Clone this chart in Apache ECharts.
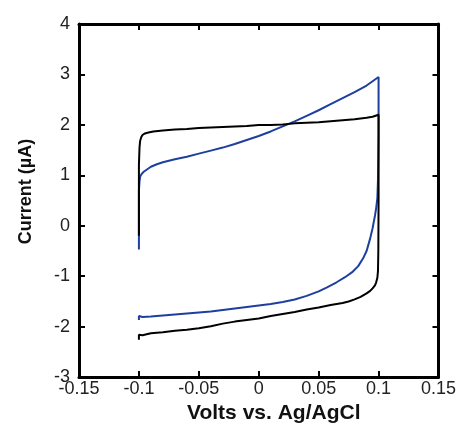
<!DOCTYPE html>
<html>
<head>
<meta charset="utf-8">
<script src="https://cdn.jsdelivr.net/npm/echarts@6/dist/echarts.min.js"></script>
<style>
html,body{margin:0;padding:0;background:#fff;}
#chart{width:459px;height:429px;}
</style>
</head>
<body>
<div id="chart"></div>
<script>
// Black CV trace (volts, microamps)
const blackV = [-0.1,-0.1,-0.1,-0.0995,-0.099,-0.098,-0.097,-0.095,-0.092,-0.088,-0.08,-0.07,-0.06,-0.05,-0.04,-0.03,-0.02,-0.01,0,0.01,0.02,0.03,0.04,0.05,0.06,0.07,0.08,0.09,0.095,0.1,
  0.1,0.1,0.0998,0.0995,0.099,0.098,0.097,0.095,0.093,0.09,0.085,0.08,0.075,0.07,0.06,0.05,0.04,0.03,0.02,0.01,0,-0.01,-0.02,-0.03,-0.04,-0.05,-0.06,-0.07,-0.08,-0.09,-0.097,-0.1,-0.1];
const blackI = [-0.2,0.5,1.2,1.55,1.68,1.76,1.8,1.83,1.85,1.87,1.89,1.91,1.92,1.94,1.95,1.96,1.97,1.98,2.0,2.0,2.01,2.03,2.04,2.05,2.07,2.09,2.11,2.14,2.16,2.2,
  1.5,0.5,-0.5,-0.9,-1.03,-1.12,-1.18,-1.24,-1.29,-1.34,-1.41,-1.46,-1.5,-1.53,-1.57,-1.62,-1.66,-1.71,-1.75,-1.79,-1.84,-1.87,-1.9,-1.94,-1.99,-2.03,-2.06,-2.08,-2.11,-2.13,-2.17,-2.16,-2.26];
// Blue CV trace (volts, microamps)
const blueV = [-0.1,-0.1,-0.1,-0.0995,-0.099,-0.098,-0.096,-0.093,-0.09,-0.085,-0.08,-0.07,-0.06,-0.05,-0.04,-0.03,-0.02,-0.01,0,0.01,0.02,0.03,0.04,0.05,0.06,0.07,0.08,0.09,0.1,
  0.1,0.0995,0.099,0.098,0.097,0.095,0.093,0.09,0.087,0.083,0.078,0.072,0.065,0.057,0.05,0.04,0.03,0.02,0.01,0,-0.01,-0.02,-0.03,-0.04,-0.05,-0.06,-0.07,-0.08,-0.09,-0.097,-0.1,-0.1];
const blueI = [-0.47,0.3,0.7,0.88,0.97,1.02,1.07,1.12,1.17,1.22,1.26,1.32,1.37,1.43,1.49,1.55,1.62,1.7,1.78,1.87,1.97,2.07,2.18,2.29,2.41,2.53,2.65,2.78,2.95,
  1.8,0.9,0.55,0.35,0.2,-0.05,-0.25,-0.5,-0.65,-0.8,-0.92,-1.02,-1.12,-1.22,-1.3,-1.39,-1.46,-1.51,-1.55,-1.58,-1.61,-1.64,-1.67,-1.7,-1.72,-1.74,-1.76,-1.78,-1.8,-1.81,-1.79,-1.87];

const xTicks = {min:-0.15, max:0.15, step:0.05};
const yTicks = {min:-3, max:4, step:1};

const pairs = (a,b) => a.map((v,i)=>[v,b[i]]);
const FONT = '"Liberation Sans", Arial, Helvetica, sans-serif';

const axisCommon = {
  axisLine:{show:true, onZero:false, lineStyle:{color:'#000', width:3}},
  axisTick:{show:true, inside:true, length:6, lineStyle:{color:'#000', width:2}},
  splitLine:{show:false}
};

const chart = echarts.init(document.getElementById('chart'), null, {renderer:'canvas'});
chart.setOption({
  animation:false,
  backgroundColor:'#fff',
  grid:{left:79, top:24, right:18, bottom:48, containLabel:false},
  xAxis:[
    Object.assign({type:'value', position:'bottom', min:xTicks.min, max:xTicks.max, interval:xTicks.step,
      name:'Volts vs. Ag/AgCl', nameLocation:'middle', nameGap:24,
      nameTextStyle:{fontFamily:FONT, fontWeight:'bold', fontSize:21, color:'#111', padding:[0,0,0,30]},
      axisLabel:{fontFamily:FONT, fontSize:18, color:'#222', margin:3}}, axisCommon),
    Object.assign({type:'value', position:'top', min:xTicks.min, max:xTicks.max, interval:xTicks.step,
      axisLabel:{show:false}}, axisCommon)
  ],
  yAxis:[
    Object.assign({type:'value', position:'left', min:yTicks.min, max:yTicks.max, interval:yTicks.step,
      name:'Current (µA)', nameLocation:'middle', nameGap:44,
      nameTextStyle:{fontFamily:FONT, fontWeight:'bold', fontSize:18, color:'#111', padding:[0,0,0,18]},
      axisLabel:{fontFamily:FONT, fontSize:18, color:'#222', margin:9}}, axisCommon),
    Object.assign({type:'value', position:'right', min:yTicks.min, max:yTicks.max, interval:yTicks.step,
      axisLabel:{show:false}}, axisCommon)
  ],
  series:[
    {type:'line', name:'blue', data:pairs(blueV, blueI), showSymbol:false, symbol:'none',
      lineStyle:{color:'#1f3f9e', width:2}, xAxisIndex:0, yAxisIndex:0, z:2},
    {type:'line', name:'black', data:pairs(blackV, blackI), showSymbol:false, symbol:'none',
      lineStyle:{color:'#000', width:2}, xAxisIndex:0, yAxisIndex:0, z:3}
  ]
});
</script>
</body>
</html>
